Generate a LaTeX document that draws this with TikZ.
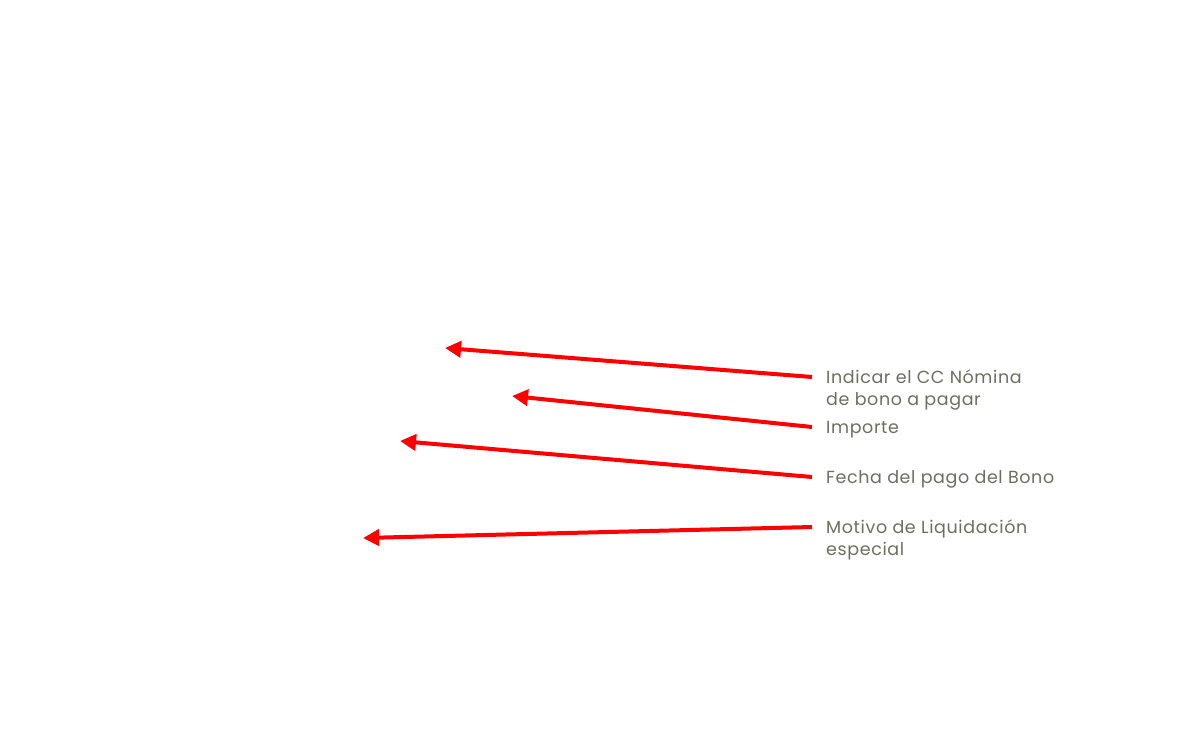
\documentclass[tikz,border=0pt]{standalone}
\usepackage{fontspec}
\setmainfont{Poppins}[LetterSpace=3.5]
\usetikzlibrary{arrows.meta}
\definecolor{lbl}{HTML}{6E6E60}
\definecolor{arr}{HTML}{FF0000}
\tikzset{
  arrowline/.style={draw=arr, line width=4pt, -{Triangle[length=16pt,width=16pt]}},
  lab/.style={anchor=base west, inner sep=0pt, align=left, text=lbl, font=\fontsize{17.5}{22}\selectfont}
}
\begin{document}
\begin{tikzpicture}[x=1pt,y=-1pt]
\useasboundingbox (0,0) rectangle (1200,750);
\node[lab] (l1) at (826,405) {Indicar el CC Nómina\\de bono a pagar};
\node[lab] (l2) at (826,433) {Importe};
\node[lab] (l3) at (826,483) {Fecha del pago del Bono};
\node[lab] (l4) at (826,555) {Motivo de Liquidación\\especial};
\coordinate (s1) at (812,377); \coordinate (t1) at (445,348);
\coordinate (s2) at (812,427); \coordinate (t2) at (512,396);
\coordinate (s3) at (812,477); \coordinate (t3) at (400,441);
\coordinate (s4) at (812,527); \coordinate (t4) at (363,538);
\draw[arrowline] (s1) -- (t1);
\draw[arrowline] (s2) -- (t2);
\draw[arrowline] (s3) -- (t3);
\draw[arrowline] (s4) -- (t4);
\end{tikzpicture}
\end{document}
